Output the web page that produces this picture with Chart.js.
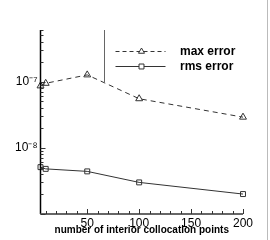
<!DOCTYPE html>
<html>
<head>
<meta charset="utf-8">
<script src="https://cdn.jsdelivr.net/npm/chart.js@4/dist/chart.umd.min.js"></script>
<style>
  html, body { margin: 0; padding: 0; background: #fff; }
  canvas { display: block; }
</style>
</head>
<body>
<canvas id="c" width="270" height="240"></canvas>
<script>
// ---- data ----
const xPoints = [5, 10, 50, 100, 200];
const maxError = [8.6e-8, 9.4e-8, 1.26e-7, 5.5e-8, 2.9e-8];
const rmsError = [5.1e-9, 4.8e-9, 4.4e-9, 3.0e-9, 2.0e-9];
const xTickLabels = [50, 100, 150, 200];
const yTickLabels = [1e-7, 1e-8];
const seriesNames = ['max error', 'rms error'];
const xTitle = 'number of interior collocation points';

const X_MIN = 5, X_MAX = 200, Y_MIN = 1e-9, Y_MAX = 6e-7;
const FONT = '"Liberation Sans", Arial, Helvetica, sans-serif';
const supers = {'-':'\u207B','0':'\u2070','1':'\u00B9','2':'\u00B2','3':'\u00B3','4':'\u2074','5':'\u2075','6':'\u2076','7':'\u2077','8':'\u2078','9':'\u2079'};
function sup(s){ return String(s).split('').map(c => supers[c] || c).join(''); }

const decor = {
  id: 'decor',
  afterDraw(chart) {
    const ctx = chart.ctx;
    const ca = chart.chartArea;
    const xs = chart.scales.x, ys = chart.scales.y;
    ctx.save();
    // axes
    ctx.strokeStyle = '#000';
    ctx.lineWidth = 1.5;
    ctx.beginPath();
    ctx.moveTo(ca.left, ca.top); ctx.lineTo(ca.left, ca.bottom);
    ctx.stroke();
    ctx.strokeStyle = '#666';
    ctx.lineWidth = 2;
    ctx.beginPath();
    ctx.moveTo(ca.left, ca.bottom); ctx.lineTo(xs.getPixelForValue(X_MAX), ca.bottom);
    ctx.stroke();
    // y ticks (log, inward)
    ctx.strokeStyle = '#333';
    ctx.lineWidth = 1;
    for (let e = -10; e <= -6; e++) {
      for (let m = 1; m <= 9; m++) {
        const v = m * Math.pow(10, e);
        if (v < Y_MIN * 0.999 || v > Y_MAX * 1.001) continue;
        const y = Math.round(ys.getPixelForValue(v)) + 0.5;
        const len = m === 1 ? 5 : 3;
        ctx.beginPath(); ctx.moveTo(ca.left, y); ctx.lineTo(ca.left + len, y); ctx.stroke();
      }
    }
    // x ticks (inward)
    for (let v = 10; v <= X_MAX; v += 10) {
      const x = Math.round(xs.getPixelForValue(v)) + 0.5;
      const len = (v % 50 === 0) ? 5 : 3;
      ctx.beginPath(); ctx.moveTo(x, ca.bottom); ctx.lineTo(x, ca.bottom - len); ctx.stroke();
    }
    // legend frame edge
    ctx.strokeStyle = '#666';
    ctx.lineWidth = 1;
    const fx = Math.round(ca.left + 63.5) + 0.5;
    ctx.beginPath(); ctx.moveTo(fx, ca.top); ctx.lineTo(fx, ca.top + 52); ctx.stroke();
    // legend entries
    const rows = [
      {name: seriesNames[0], dash: [4, 3], style: 'triangle', dy: 21},
      {name: seriesNames[1], dash: [], style: 'rect', dy: 35.5}
    ];
    rows.forEach(r => {
      const y = Math.round(ca.top + r.dy) + 0.5;
      ctx.strokeStyle = '#333';
      ctx.lineWidth = 1;
      ctx.setLineDash(r.dash);
      ctx.beginPath(); ctx.moveTo(ca.left + 75, y); ctx.lineTo(ca.left + 125, y); ctx.stroke();
      ctx.setLineDash([]);
      ctx.fillStyle = '#fff';
      Chart.helpers.drawPoint(ctx, {pointStyle: r.style, radius: 3.5, borderWidth: 1, rotation: 0}, ca.left + 101, y);
      ctx.fillStyle = '#000';
      ctx.font = 'bold 12px ' + FONT;
      ctx.textAlign = 'left';
      ctx.textBaseline = 'middle';
      ctx.fillText(r.name, ca.left + 139.5, y);
    });
    // x title
    ctx.fillStyle = '#000';
    ctx.font = 'bold 10px ' + FONT;
    ctx.textAlign = 'center';
    ctx.textBaseline = 'middle';
    ctx.fillText(xTitle, (ca.left + xs.getPixelForValue(X_MAX)) / 2, ca.bottom + 16.5);
    // right border
    ctx.fillStyle = '#bbb';
    ctx.fillRect(chart.width - 3, 0, 1, chart.height);
    ctx.restore();
  }
};

new Chart(document.getElementById('c'), {
  type: 'line',
  data: {
    datasets: [
      {
        label: seriesNames[0],
        data: xPoints.map((x, i) => ({x: x, y: maxError[i]})),
        borderColor: '#333', borderWidth: 1, borderDash: [5, 4],
        pointStyle: 'triangle', pointRadius: 4, pointBorderWidth: 1,
        pointBorderColor: '#333', pointBackgroundColor: 'rgba(255,255,255,0)',
        tension: 0, clip: false
      },
      {
        label: seriesNames[1],
        data: xPoints.map((x, i) => ({x: x, y: rmsError[i]})),
        borderColor: '#333', borderWidth: 1,
        pointStyle: 'rect', pointRadius: 3.5, pointBorderWidth: 1,
        pointBorderColor: '#333', pointBackgroundColor: 'rgba(255,255,255,0)',
        tension: 0, clip: false
      }
    ]
  },
  options: {
    responsive: false,
    animation: false,
    devicePixelRatio: 1,
    layout: { padding: { left: 0, top: 30, right: 27, bottom: 0 } },
    plugins: { legend: { display: false }, tooltip: { enabled: false } },
    scales: {
      x: {
        type: 'linear', min: X_MIN, max: X_MAX,
        grid: { display: false, drawTicks: false }, border: { display: false },
        afterBuildTicks: s => { s.ticks = xTickLabels.map(v => ({value: v})); },
        afterFit: s => { s.height = 26; },
        ticks: { autoSkip: false, maxRotation: 0, padding: 2, color: '#000',
                 font: { family: FONT, size: 12 } }
      },
      y: {
        type: 'logarithmic', min: Y_MIN, max: Y_MAX,
        grid: { display: false, drawTicks: false }, border: { display: false },
        afterBuildTicks: s => { s.ticks = yTickLabels.map(v => ({value: v})); },
        afterFit: s => { s.width = 40.5; },
        ticks: { autoSkip: false, padding: 3, color: '#000',
                 font: { family: FONT, size: 12 },
                 callback: v => '10' + sup(Math.round(Math.log10(v))) }
      }
    }
  },
  plugins: [decor]
});
</script>
</body>
</html>
